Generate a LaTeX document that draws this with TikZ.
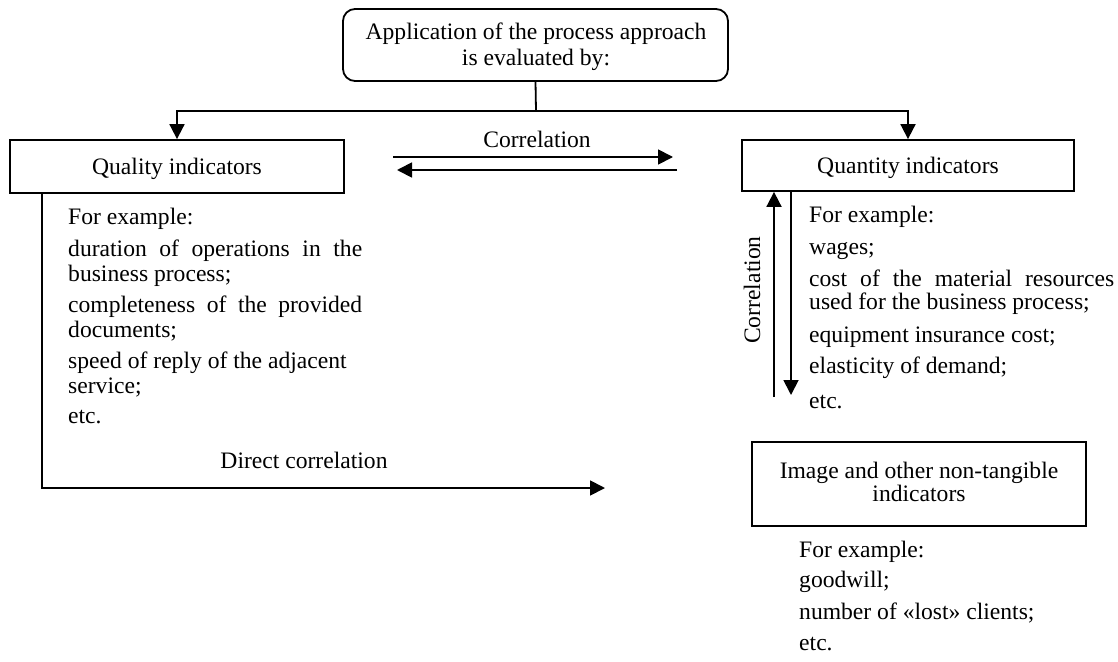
\documentclass[tikz,border=0pt]{standalone}
\usepackage{fontspec}
\setmainfont{Liberation Serif}
\usetikzlibrary{arrows.meta}
\tikzset{
  box/.style={draw, line width=1.8pt, inner sep=0pt, align=center,
    font=\fontsize{23.6}{25}\selectfont},
  txt/.style={anchor=base west, inner sep=0pt,
    font=\fontsize{23.6}{25}\selectfont},
  lbl/.style={anchor=base, inner sep=0pt,
    font=\fontsize{23.6}{25}\selectfont},
  conn/.style={line width=1.8pt},
  arr/.style={line width=1.8pt, -{Triangle[length=15pt,width=15pt]}}
}
\begin{document}
\begin{tikzpicture}[x=1pt,y=-1pt]
\useasboundingbox (0,0) rectangle (1118,661);
% boxes
\node[box, rounded corners=12pt, minimum width=385pt, minimum height=72pt] (top) at (535.5,45) {};
\node[lbl] (toptxt1) at (536,40) {Application of the process approach};
\node[lbl] (toptxt2) at (536,65) {is evaluated by:};
\node[box, minimum width=334pt, minimum height=53pt] (qual) at (177,166.5) {};
\node[lbl] (qualtxt) at (177,174) {Quality indicators};
\node[box, minimum width=332pt, minimum height=51pt] (quant) at (908,165.5) {};
\node[lbl] (quanttxt) at (908,173) {Quantity indicators};
\node[box, minimum width=334pt, minimum height=84pt] (img) at (919,484) {};
\node[lbl] (imgtxt1) at (919,478) {Image and other non-tangible};
\node[lbl] (imgtxt2) at (919,501) {indicators};
% top connectors
\coordinate (j) at (536,111);
\draw[conn] (top.south) -- (j);
\draw[arr] (j) -| (qual.north);
\draw[arr] (j) -| (quant.north);
% horizontal correlation
\coordinate (c1a) at (393,157);
\coordinate (c1b) at (673,157);
\coordinate (c2a) at (677,170);
\coordinate (c2b) at (397,170);
\draw[arr] (c1a) -- (c1b);
\draw[arr] (c2a) -- (c2b);
\node[lbl] (corr) at (537,147) {Correlation};
% direct correlation
\coordinate (dstart) at ([xshift=33pt]qual.south west);
\coordinate (dend) at (605,488);
\draw[arr] (dstart) |- (dend);
\node[lbl] (dcorr) at (304,468) {Direct correlation};
% vertical correlation
\coordinate (ua) at (774,397);
\coordinate (db) at (791,395);
\draw[arr] (ua) -- (ua |- quant.south);
\draw[arr] (db |- quant.south) -- (db);
\node[lbl, anchor=center, rotate=90] (vcorr) at (752,290) {Correlation};
% left column
\node[txt] (l1) at (68,224) {For example:};
\node[txt] (l2) at (68,256) {\makebox[294pt][s]{duration of operations in the}};
\node[txt] (l3) at (68,281) {business process;};
\node[txt] (l4) at (68,312) {\makebox[294pt][s]{completeness of the provided}};
\node[txt] (l5) at (68,337) {documents;};
\node[txt] (l6) at (68,368) {speed of reply of the adjacent};
\node[txt] (l7) at (68,393) {service;};
\node[txt] (l8) at (68,423) {etc.};
% right column
\node[txt] (r1) at (809,222) {For example:};
\node[txt] (r2) at (809,254) {wages;};
\node[txt] (r3) at (809,286) {\makebox[305pt][s]{cost of the material resources}};
\node[txt] (r4) at (809,309) {used for the business process;};
\node[txt] (r5) at (809,342) {equipment insurance cost;};
\node[txt] (r6) at (809,373) {elasticity of demand;};
\node[txt] (r7) at (809,408) {etc.};
% bottom column
\node[txt] (b1) at (799,557) {For example:};
\node[txt] (b2) at (799,587) {goodwill;};
\node[txt] (b3) at (799,619) {number of «lost» clients;};
\node[txt] (b4) at (799,650) {etc.};
\end{tikzpicture}
\end{document}
